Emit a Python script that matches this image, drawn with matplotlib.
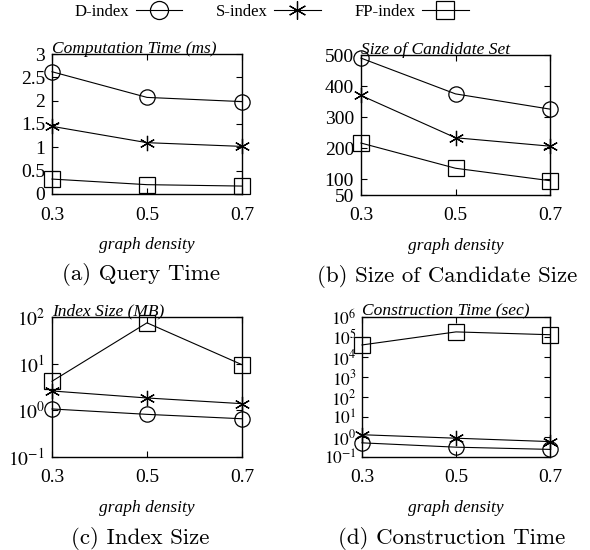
import numpy as np
import matplotlib.pyplot as plt
from matplotlib.lines import Line2D

plt.rcParams['font.family'] = 'Liberation Serif'
plt.rcParams['mathtext.fontset'] = 'stix'

density = [0.3, 0.5, 0.7]
density_labels = ['0.3', '0.5', '0.7']

# (a) query time (ms)
query_d = [2.62, 2.07, 1.98]
query_s = [1.45, 1.10, 1.02]
query_fp = [0.32, 0.20, 0.17]

# (b) candidate set size
cand_d = [490, 375, 326]
cand_s = [370, 234, 207]
cand_fp = [217, 136, 96]

# (c) index size (MB)
index_d = [1.07, 0.82, 0.66]
index_s = [2.6, 1.84, 1.39]
index_fp = [4.2, 75, 9.5]

# (d) construction time (sec)
build_d = [0.51, 0.31, 0.24]
build_s = [1.3, 0.87, 0.59]
build_fp = [40000, 180000, 130000]

series_names = ['D-index', 'S-index', 'FP-index']
markers = ['o', (6, 2, 0), 's']

W, H = 590, 550
fig = plt.figure(figsize=(W / 100, H / 100), dpi=100)

def box(l, t, r, b):
    return [l / W, 1 - b / H, (r - l) / W, (b - t) / H]

panels = [
    (box(52, 54, 242, 194), [query_d, query_s, query_fp], 'Computation Time (ms)', '(a) Query Time', 141),
    (box(361, 55, 550, 195), [cand_d, cand_s, cand_fp], 'Size of Candidate Set', '(b) Size of Candidate Size', 447),
    (box(52, 317, 242, 457), [index_d, index_s, index_fp], 'Index Size (MB)', '(c) Index Size', 140),
    (box(362, 317, 550, 457), [build_d, build_s, build_fp], 'Construction Time (sec)', '(d) Construction Time', 452),
]

axes = []
for pos, data, title, caption, cx in panels:
    ax = fig.add_axes(pos)
    for vals, m in zip(data, markers):
        ax.plot(density, vals, color='black', lw=0.8, marker=m, markersize=11,
                fillstyle='none', markeredgewidth=0.9, clip_on=False)
    ax.set_xlim(0.3, 0.7)
    ax.set_xticks(density)
    ax.set_xticklabels(density_labels)
    ax.tick_params(direction='in', top=True, right=True, length=4, width=0.8,
                   labelsize=14)
    ax.tick_params(axis='y', pad=5)
    ax.tick_params(axis='x', pad=9)
    for sp in ax.spines.values():
        sp.set_linewidth(1.0)
    ax.set_title(title, loc='left', fontsize=12.5, style='italic', pad=1, x=0.0)
    ax.set_xlabel('graph density', fontsize=12.5, style='italic', labelpad=10)
    axes.append(ax)

axes[0].set_ylim(0, 3)
axes[0].set_yticks([0, 0.5, 1, 1.5, 2, 2.5, 3])
axes[0].set_yticklabels(['0', '0.5', '1', '1.5', '2', '2.5', '3'])

axes[1].set_ylim(50, 500)
axes[1].set_yticks([50, 100, 200, 300, 400, 500])

axes[2].set_yscale('log')
axes[2].set_ylim(0.1, 100)
axes[2].set_yticks([0.1, 1, 10, 100])
axes[2].set_yticklabels([r'$10^{%d}$' % e for e in range(-1, 3)])
axes[2].yaxis.set_minor_locator(plt.NullLocator())

axes[3].set_yscale('log')
axes[3].set_ylim(0.1, 1e6)
axes[3].set_yticks([10.0 ** e for e in range(-1, 7)])
axes[3].set_yticklabels([r'$10^{%d}$' % e for e in range(-1, 7)])
axes[3].yaxis.set_minor_locator(plt.NullLocator())
axes[3].tick_params(axis='y', labelsize=12.5, pad=4)

for pos, data, title, caption, cx in panels:
    fig.text(cx / W, (pos[1] * H - 81) / H, caption, ha='center', va='center',
             fontsize=16.5, family='cmr10')

handles = [Line2D([], [], color='black', lw=0.8, marker=m, markersize=13,
                  fillstyle='none', markeredgewidth=0.9) for m in markers]
fig.legend(handles, series_names, loc='center', bbox_to_anchor=(0.46, 1 - 12 / H),
           ncol=3, frameon=False, markerfirst=False, handlelength=2.8,
           columnspacing=2.0, handletextpad=0.4, fontsize=12)

fig.savefig('out.png', dpi=100)
